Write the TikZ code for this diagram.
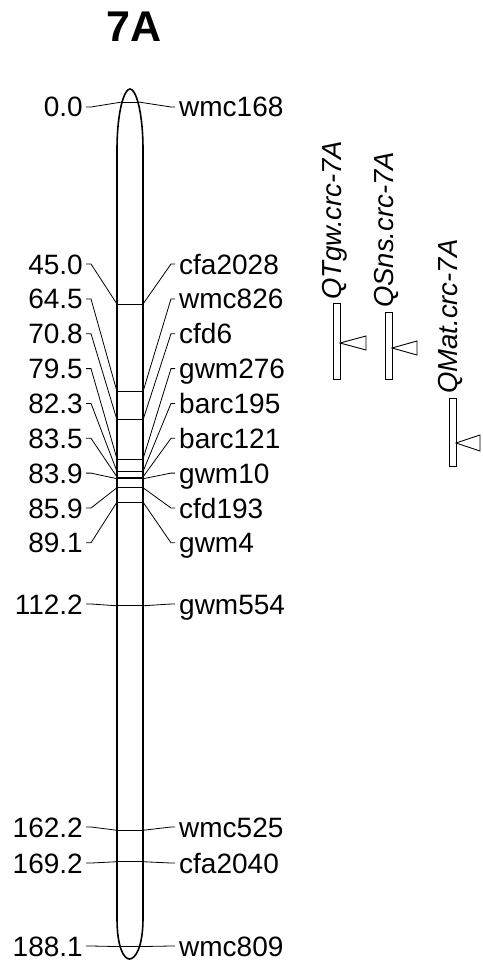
\documentclass[tikz,border=0pt]{standalone}
\usepackage{fontspec}
\setmainfont{Liberation Sans}
\begin{document}
\begin{tikzpicture}[x=1pt,y=-1pt,
  lbl/.style={font=\fontsize{28}{32}\selectfont, inner sep=0pt, text height=20pt, text depth=0pt},
  qlbl/.style={font=\fontsize{27.5}{32}\selectfont\itshape, inner sep=0pt, rotate=90, anchor=base west},
  conn/.style={line width=0.8pt},
  mline/.style={line width=0.8pt},
  chrom/.style={line width=1.6pt, fill=white},
  qbar/.style={draw, line width=0.9pt, fill=white, inner sep=0pt, minimum width=7pt, anchor=north west},
  qtri/.style={draw, line width=0.9pt, fill=white}
]
\useasboundingbox (0,0) rectangle (482,963);

\node[font=\fontsize{43}{48}\selectfont\bfseries, inner sep=0pt, text height=31pt, text depth=0pt] (title) at (134,26) {7A};

% chromosome
\draw[chrom] (117,150) .. controls (117,112) and (124,89) .. (130,89)
  .. controls (136,89) and (143,112) .. (143,150) -- (143,918)
  .. controls (143,948) and (135,959) .. (129.5,959)
  .. controls (124,959) and (117,948) .. (117,918) -- cycle;

% markers: cM / label y / marker name / left edge x / right edge x
\foreach \cm/\ly/\mk/\xl/\xr [count=\i] in {
  0.0/107/wmc168/122/138.5,
  45.0/264/cfa2028/117/143,
  64.5/298.9/wmc826/117/143,
  70.8/333.7/cfd6/117/143,
  79.5/368.6/gwm276/117/143,
  82.3/403.4/barc195/117/143,
  83.5/438.3/barc121/117/143,
  83.9/473.1/gwm10/117/143,
  85.9/508/cfd193/117/143,
  89.1/542.8/gwm4/117/143,
  112.2/604/gwm554/117/143,
  162.2/827/wmc525/117/143,
  169.2/863/cfa2040/117/143,
  188.1/946/wmc809/119/140}{
  \pgfmathsetmacro\my{102+4.49*\cm}
  \node[lbl, anchor=east] (L\i) at (83,\ly) {\cm};
  \node[lbl, anchor=west] (R\i) at (179,\ly) {\mk};
  \coordinate (cl\i) at (\xl,\my);
  \coordinate (cr\i) at (\xr,\my);
  \draw[mline] (cl\i) -- (cr\i);
  \draw[conn] ([xshift=3pt]L\i.east) -- ([xshift=8pt]L\i.east) -- (cl\i);
  \draw[conn] (cr\i) -- ([xshift=-8pt]R\i.west) -- ([xshift=-4pt]R\i.west);
}

% QTL bars
\node[qbar, minimum height=76pt] (b1) at (333,303) {};
\node[qlbl] (q1) at (341,300) {QTgw.crc-7A};
\coordinate (t1) at (340,343);
\draw[qtri] (t1) -- ++(26,-7) -- ++(0,14) -- cycle;

\node[qbar, minimum height=67pt] (b2) at (385,312) {};
\node[qlbl] (q2) at (393,308) {QSns.crc-7A};
\coordinate (t2) at (392,348);
\draw[qtri] (t2) -- ++(25,-7) -- ++(0,14) -- cycle;

\node[qbar, minimum height=68pt] (b3) at (449,398) {};
\node[qlbl] (q3) at (457,394) {QMat.crc-7A};
\coordinate (t3) at (456,443);
\draw[qtri] (t3) -- ++(24,-8) -- ++(0,16) -- cycle;
\end{tikzpicture}
\end{document}
